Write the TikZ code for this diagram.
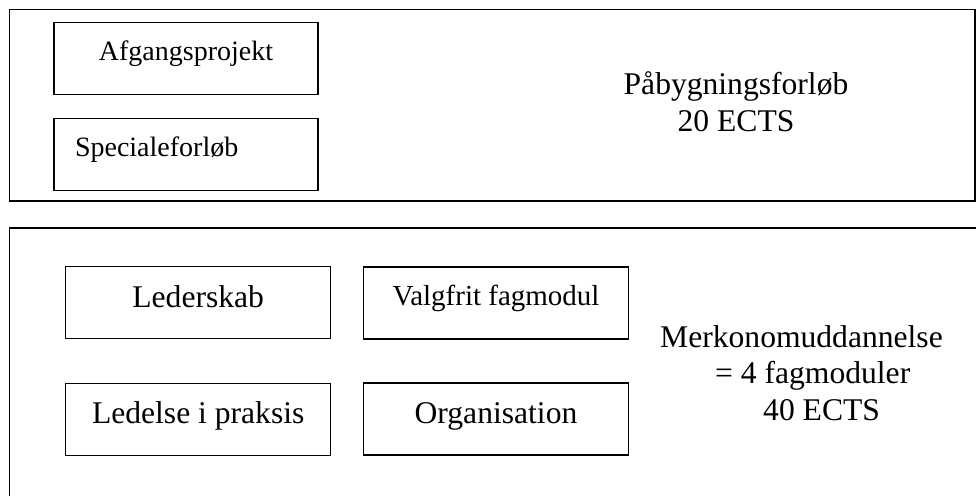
\documentclass[tikz,border=0pt]{standalone}
\usepackage{fontspec}
\setmainfont{Liberation Serif}

\begin{document}
\begin{tikzpicture}[x=1pt, y=-1pt,
    ramme/.style ={draw, line width=1.6pt, inner sep=0pt},
    modul/.style ={draw, line width=1.4pt, minimum width=265pt, minimum height=72pt,
                   inner sep=0pt, text height=22pt, text depth=13pt,
                   font=\fontsize{31.6}{36.5}\selectfont},
    lille/.style ={text height=20pt, text depth=16pt, font=\fontsize{28}{33}\selectfont},
    tekst/.style ={inner sep=0pt, font=\fontsize{31.6}{36.5}\selectfont}]
   \useasboundingbox (0,0) rectangle (976,495);
   \clip (0,0) rectangle (976,495);

   % rammer
   \node[ramme, minimum width=965.5pt, minimum height=191.5pt] (top)  at (492.25,105.25) {};
   \node[ramme, minimum width=1000pt, minimum height=300pt]    (bund) at (509.5,377.7)   {};

   % paabygning
   \node[modul, lille, minimum width=264pt] (afgang) at (186,58.35) {Afgangsprojekt};
   \node[modul, lille, minimum width=264pt, text width=222pt, align=left,
         inner xsep=21pt] (speciale) at (186,154.5) {Specialeforløb};
   \node[tekst, align=center, anchor=base] (paabygtxt) at (736,131)
        {Påbygningsforløb\\20 ECTS};

   % merkonom
   \node[modul]        (lederskab) at (198.2,302.7) {Lederskab};
   \node[modul, lille, font=\fontsize{29}{34}\selectfont] (valgfrit) at (496,303) {Valgfrit fagmodul};
   \node[modul]        (ledelse)   at (198.2,419.2) {Ledelse i praksis};
   \node[modul]        (organisation) at (496,418.85) {Organisation};
   \node[tekst, align=left, anchor=base west] (merkonomtxt) at (660,420)
        {Merkonomuddannelse\\\hspace*{55pt}= 4 fagmoduler\\\hspace*{103pt}40 ECTS};

 \end{tikzpicture}
\end{document}
